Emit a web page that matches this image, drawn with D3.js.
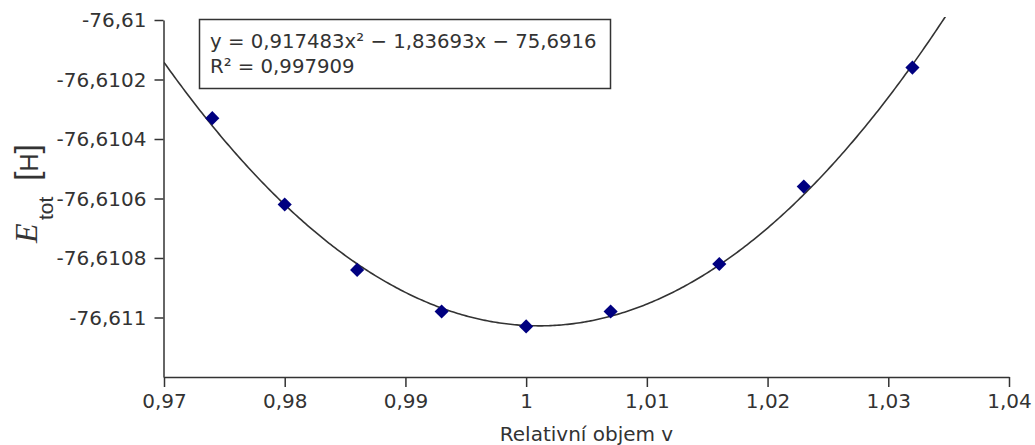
<!DOCTYPE html>
<html>
<head>
<meta charset="utf-8">
<script src="https://cdn.jsdelivr.net/npm/d3@7"></script>
<style>
  html, body { margin: 0; padding: 0; background: #fff; }
  svg { display: block; }
  text { font-family: "DejaVu Sans", sans-serif; fill: #333; }
</style>
</head>
<body>
<div id="chart"></div>
<script>
// Relative volume vs. total energy, with quadratic trendline
const volumes  = [0.974, 0.980, 0.986, 0.993, 1.000, 1.007, 1.016, 1.023, 1.032];
const energies = [-76.61033, -76.61062, -76.61084, -76.61098, -76.61103,
                  -76.61098, -76.61082, -76.61056, -76.61016];

// Trendline coefficients: y = a x^2 + b x + c
const fitA = 0.917483;
const fitB = -1.83693;
const fitC = -75.69158;
const fitR2 = 0.997909;

const xTicks = [0.97, 0.98, 0.99, 1.00, 1.01, 1.02, 1.03, 1.04];
const xTickLabels = ["0,97", "0,98", "0,99", "1", "1,01", "1,02", "1,03", "1,04"];
const yTicks = [-76.6100, -76.6102, -76.6104, -76.6106, -76.6108, -76.6110];
const yTickLabels = ["-76,61", "-76,6102", "-76,6104", "-76,6106", "-76,6108", "-76,611"];

const xDomain = [0.97, 1.04];
const yDomain = [-76.6112, -76.6100];

const W = 1035, H = 445;
const plot = { left: 164, right: 1009, top: 20, bottom: 377 };
const labelSize = 20;

const svg = d3.select("#chart").append("svg")
  .attr("width", W).attr("height", H);

svg.append("rect").attr("width", W).attr("height", H).attr("fill", "#fff");

const x = d3.scaleLinear().domain(xDomain).range([plot.left, plot.right]);
const y = d3.scaleLinear().domain(yDomain).range([plot.bottom, plot.top]);

const comma = s => s.replace(".", ",");

// Axes
const xAxis = d3.axisBottom(x)
  .tickValues(xTicks)
  .tickFormat((d, i) => xTickLabels[i])
  .tickSize(10).tickSizeOuter(0).tickPadding(8);

const gx = svg.append("g")
  .attr("transform", `translate(0,${plot.bottom})`)
  .call(xAxis);
gx.select(".domain").attr("stroke", "#333").attr("stroke-width", 1.5);
gx.selectAll(".tick line").attr("stroke", "#333").attr("stroke-width", 1.5);
gx.selectAll(".tick text")
  .attr("font-size", labelSize).attr("font-family", "DejaVu Sans")
  .attr("fill", "#333").attr("y", 31).attr("dy", 0);

const yAxis = d3.axisLeft(y)
  .tickValues(yTicks)
  .tickFormat((d, i) => yTickLabels[i])
  .tickSize(9).tickSizeOuter(0).tickPadding(8);

const gy = svg.append("g")
  .attr("transform", `translate(${plot.left - 0.5},0)`)
  .call(yAxis);
gy.select(".domain").attr("stroke", "#333").attr("stroke-width", 1.5);
gy.selectAll(".tick line").attr("stroke", "#333").attr("stroke-width", 1.5);
gy.selectAll(".tick text")
  .attr("font-size", labelSize).attr("font-family", "DejaVu Sans")
  .attr("fill", "#333").attr("dy", "0.34em");

// Trendline
svg.append("clipPath").attr("id", "plot-clip")
  .append("rect")
  .attr("x", plot.left).attr("y", plot.top - 3)
  .attr("width", plot.right - plot.left).attr("height", plot.bottom - plot.top + 3);

const fit = v => fitA * v * v + fitB * v + fitC;
const steps = 400;
const curveX = d3.range(steps + 1).map(i => xDomain[0] + (xDomain[1] - xDomain[0]) * i / steps);

svg.append("path")
  .datum(curveX)
  .attr("clip-path", "url(#plot-clip)")
  .attr("fill", "none")
  .attr("stroke", "#333")
  .attr("stroke-width", 1.6)
  .attr("d", d3.line().x(v => x(v)).y(v => y(fit(v))));

// Data points (diamonds)
const diamond = d3.symbol().type(d3.symbolSquare).size(100);
svg.append("g")
  .selectAll("path")
  .data(volumes.map((v, i) => [v, energies[i]]))
  .join("path")
  .attr("d", diamond)
  .attr("transform", d => `translate(${x(d[0])},${y(d[1])}) rotate(45)`)
  .attr("fill", "#000080");

// Equation box
const eqLines = [
  `y = ${comma(fitA.toFixed(6))}x² − ${comma(Math.abs(fitB).toFixed(5))}x − ${comma(Math.abs(fitC).toFixed(4))}`,
  `R² = ${comma(fitR2.toFixed(6))}`
];
const box = svg.append("g");
box.append("rect")
  .attr("x", 199.5).attr("y", 19.5).attr("width", 411).attr("height", 69)
  .attr("fill", "#fff").attr("stroke", "#333").attr("stroke-width", 1.5);
box.selectAll("text")
  .data(eqLines)
  .join("text")
  .attr("x", 210).attr("y", (d, i) => 48 + i * 25)
  .attr("font-size", 19.7)
  .text(d => d);

// Axis titles
svg.append("text")
  .attr("x", (plot.left + plot.right) / 2).attr("y", 441)
  .attr("text-anchor", "middle")
  .attr("font-size", labelSize)
  .text("Relativní objem v");

const yTitle = svg.append("text")
  .attr("transform", "translate(36.5,243) rotate(-90)");
yTitle.append("tspan")
  .attr("font-family", "Liberation Serif").attr("font-style", "italic")
  .attr("font-size", 32).text("E");
yTitle.append("tspan")
  .attr("font-family", "Liberation Sans").attr("font-size", 21)
  .attr("x", 23).attr("dy", 16.5).text("tot");
yTitle.append("tspan")
  .attr("font-family", "Liberation Sans").attr("font-size", 34)
  .attr("x", 62).attr("dy", -15).text("[");
yTitle.append("tspan")
  .attr("font-family", "Liberation Sans").attr("font-size", 25)
  .text("H");
yTitle.append("tspan")
  .attr("font-family", "Liberation Sans").attr("font-size", 34)
  .text("]");
</script>
</body>
</html>
